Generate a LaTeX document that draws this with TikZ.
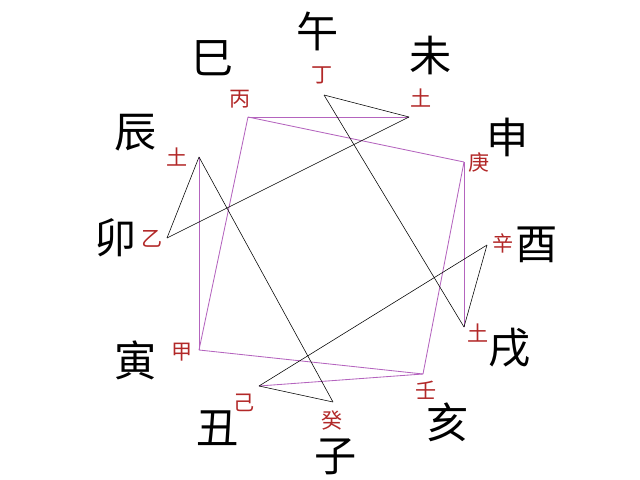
\documentclass[tikz,border=0pt]{standalone}
\usepackage{fontspec}
\newfontfamily\cjk{Noto Sans CJK SC}
\definecolor{stemred}{RGB}{178,40,40}
\definecolor{linepurple}{RGB}{180,100,190}

\begin{document}
\begin{tikzpicture}[x=0.025cm, y=-0.025cm, branch/.style = {font=\cjk\fontsize{30}{30}\selectfont, text=black, inner sep=0pt}, stem/.style = {font=\cjk\fontsize{15}{15}\selectfont, text=stemred, inner sep=0pt}, pline/.style = {draw=linepurple, line width=0.6pt}, bline/.style = {draw=black, line width=0.4pt}]
        \useasboundingbox (0,0) rectangle (640,480);

        % earthly branches
        \draw (213,58) node[branch] (si) {巳};
        \draw (318,31) node[branch] (wu) {午};
        \draw (431,55) node[branch] (wei) {未};
        \draw (508,137) node[branch] (shen) {申};
        \draw (537,245) node[branch] (you) {酉};
        \draw (510,348) node[branch] (xu) {戌};
        \draw (448,422) node[branch] (hai) {亥};
        \draw (336,457) node[branch] (zi) {子};
        \draw (218,428) node[branch] (chou) {丑};
        \draw (136,360) node[branch] (yin) {寅};
        \draw (116,238) node[branch] (mao) {卯};
        \draw (136,133) node[branch] (chen) {辰};

        % stems
        \draw (322,75) node[stem] (tding) {丁};
        \draw (421,98) node[stem] (tweitu) {土};
        \draw (240,99) node[stem] (tbing) {丙};
        \draw (479,162) node[stem] (tgeng) {庚};
        \draw (177,157) node[stem] (tchentu) {土};
        \draw (152,239) node[stem] (tyi) {乙};
        \draw (503,243) node[stem] (txin) {辛};
        \draw (478,333) node[stem] (txutu) {土};
        \draw (182,352) node[stem] (tjia) {甲};
        \draw (426,390) node[stem] (tren) {壬};
        \draw (244,403) node[stem] (tji) {己};
        \draw (332,420) node[stem] (tgui) {癸};

        % corners
        \coordinate (ding) at (324,95);
        \coordinate (weitu) at (409,117);
        \coordinate (bing) at (248,117);
        \coordinate (geng) at (464,162);
        \coordinate (chentu) at (199,157);
        \coordinate (yi) at (167,238);
        \coordinate (xin) at (487,245);
        \coordinate (xutu) at (464,327);
        \coordinate (jia) at (199,350);
        \coordinate (ren) at (423,374);
        \coordinate (ji) at (259,386);
        \coordinate (gui) at (333,402);

        \draw[pline] (bing) -- (weitu);
        \draw[pline] (bing) -- (geng);
        \draw[pline] (bing) -- (jia);
        \draw[pline] (chentu) -- (jia);
        \draw[pline] (jia) -- (ren);
        \draw[pline] (ren) -- (ji);
        \draw[pline] (geng) -- (xutu);
        \draw[pline] (geng) -- (ren);

        \draw[bline] (ding) -- (weitu);
        \draw[bline] (weitu) -- (yi);
        \draw[bline] (ding) -- (xutu);
        \draw[bline] (chentu) -- (yi);
        \draw[bline] (chentu) -- (gui);
        \draw[bline] (ji) -- (gui);
        \draw[bline] (ji) -- (xin);
        \draw[bline] (xin) -- (xutu);
      \end{tikzpicture}
\end{document}
